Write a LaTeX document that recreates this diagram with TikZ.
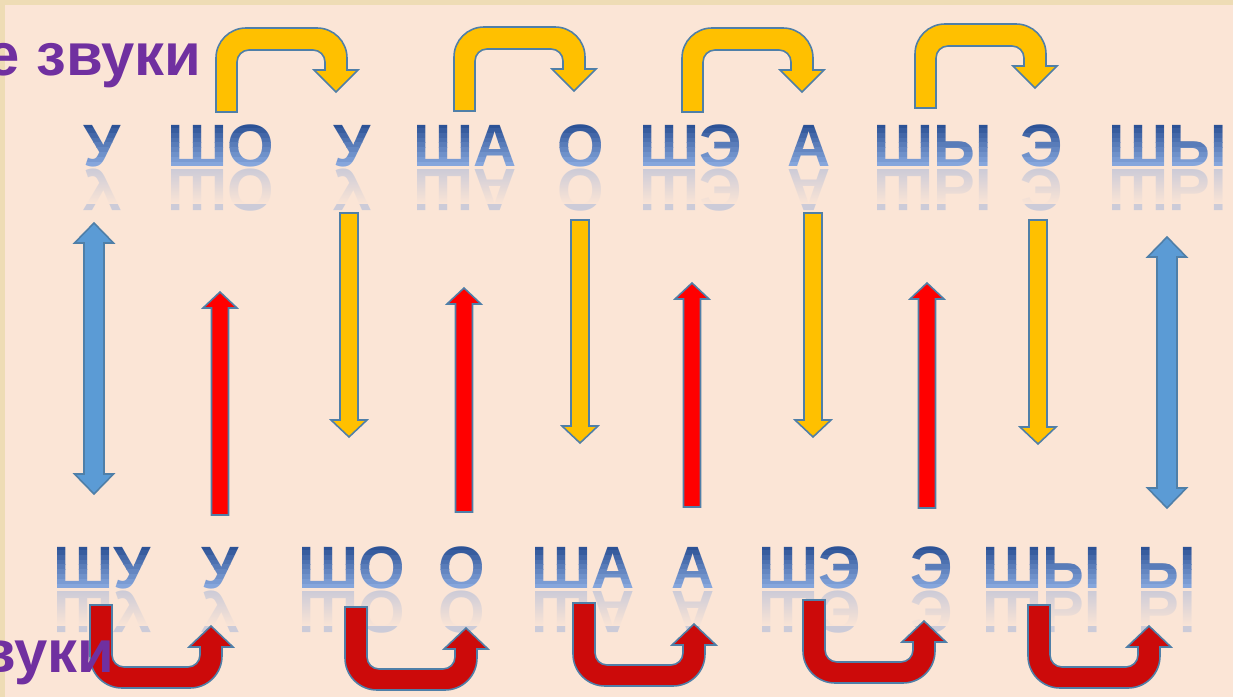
\documentclass[tikz,border=0pt]{standalone}
\usepackage{fontspec}
\setmainfont{Liberation Sans}
\usepackage{graphicx}
\usetikzlibrary{fadings}
\definecolor{persik}{HTML}{FBE5D6}
\definecolor{ramka}{HTML}{EEDCB5}
\definecolor{zheltyy}{HTML}{FFC000}
\definecolor{krasnyy}{HTML}{FF0000}
\definecolor{temnokrasnyy}{HTML}{CC0A0A}
\definecolor{siniy}{HTML}{5B9BD5}
\definecolor{kontur}{HTML}{4F7FA8}
\definecolor{fioletovyy}{HTML}{7030A0}
\definecolor{bukvaverh}{HTML}{2C5296}
\definecolor{bukvaniz}{HTML}{86A6DC}
\colorlet{bukvacol}{bukvaverh}
\tikzfading[name=otrfade, top color=transparent!100, bottom color=transparent!0]
% слоги: x центра / текст
\newcommand\verhslogi{102/У,221/ШО,352/У,465/ША,581/О,691/ШЭ,809/А,933/ШЫ,1042/Э,1168/ШЫ}
\newcommand\nizslogi{102/ШУ,220/У,352/ШО,462/О,583/ША,693/А,810/ШЭ,932/Э,1042/ШЫ,1167/Ы}

\begin{document}
\begin{tikzpicture}[x=0.01cm, y=-0.01cm,
    bukva/.style={font=\fontsize{17}{20}\selectfont\bfseries, text=bukvacol, inner sep=0pt, anchor=base},
    otrazh/.style={bukva, text=bukvaniz, opacity=0.4},
    nadpis/.style={font=\fontsize{17}{20}\selectfont\bfseries, text=fioletovyy, inner sep=0pt, anchor=base east},
    zhelt/.style={fill=zheltyy, draw=kontur, line width=0.45pt},
    krasn/.style={fill=krasnyy, draw=kontur, line width=0.45pt},
    bordo/.style={fill=temnokrasnyy, draw=kontur, line width=0.45pt},
    sin/.style={fill=siniy, draw=kontur, line width=0.45pt}]
  \useasboundingbox (0,0) rectangle (1233,697);
  \clip (0,0) rectangle (1233,697);
  % фон слайда
  \fill[ramka] (0,0) rectangle (1233,697);
  \fill[persik] (5,5) rectangle (1233,697);

  % подписи
  \node[nadpis] (glasnye) at (202,75) {е звуки};

  % жёлтые изогнутые стрелки сверху
  \foreach \X/\Y in {216/28, 454/27, 682/28, 915/24}
    \draw[zhelt, shift={(\X,\Y)}] (0,84) -- (0,30) arc[start angle=180, end angle=270, radius=30]
      -- (101,0) arc[start angle=270, end angle=360, radius=30] -- (131,42) -- (142,42) -- (120,64)
      -- (98,42) -- (109,42) -- (109,34) arc[start angle=0, end angle=-90, radius=12]
      -- (33,22) arc[start angle=270, end angle=180, radius=12] -- (21,84) -- cycle;

  % отражения слогов
  \foreach \x/\t [count=\i] in \verhslogi
    \node[otrazh] (vo\i) at (\x,169) {\scalebox{1}[-1]{\t}};
  \foreach \x/\t [count=\i] in \nizslogi
    \node[otrazh] (no\i) at (\x,591) {\scalebox{1}[-1]{\t}};
  \fill[persik, path fading=otrfade] (5,168) rectangle (1233,204);
  \fill[persik, path fading=otrfade] (5,590) rectangle (1233,626);

  % слоги, полосами от тёмного к светлому
  \foreach \k in {0,...,8} {
    \pgfmathsetmacro\ya{123+4.8*\k-(\k==0)*20}
    \pgfmathsetmacro\yb{123+4.8*(\k+1)+(\k==8)*20}
    \pgfmathtruncatemacro\p{\k*12.5}
    \colorlet{bukvacol}{bukvaniz!\p!bukvaverh}
    \begin{scope}
      \clip (0,\ya) rectangle (1233,\yb) (0,\ya+422) rectangle (1233,\yb+422);
      \foreach \x/\t [count=\i] in \verhslogi
        \node[bukva] (v\i) at (\x,166) {\t};
      \foreach \x/\t [count=\i] in \nizslogi
        \node[bukva] (n\i) at (\x,588) {\t};
    \end{scope}
  }

  % синие двойные стрелки
  \foreach \x/\a/\b in {94/223/494, 1167/237/508}
    \draw[sin] (\x,\a) -- (\x+19.5,\a+20) -- (\x+10,\a+20) -- (\x+10,\b-20) -- (\x+19.5,\b-20) -- (\x,\b)
      -- (\x-19.5,\b-20) -- (\x-10,\b-20) -- (\x-10,\a+20) -- (\x-19.5,\a+20) -- cycle;
  % красные стрелки вверх
  \foreach \x/\a/\b in {220/515/292, 464/512/288, 692/507/283, 927/508/283}
    \draw[krasn] (\x-8.5,\a) -- (\x-8.5,\b+16) -- (\x-17,\b+16) -- (\x,\b) -- (\x+17,\b+16)
      -- (\x+8.5,\b+16) -- (\x+8.5,\a) -- cycle;
  % жёлтые стрелки вниз
  \foreach \x/\a/\b in {349/213/437, 580/220/443, 813/213/437, 1038/220/444}
    \draw[zhelt] (\x-9,\a) -- (\x-9,\b-17) -- (\x-18,\b-17) -- (\x,\b) -- (\x+18,\b-17)
      -- (\x+9,\b-17) -- (\x+9,\a) -- cycle;

  % тёмно-красные изогнутые стрелки снизу
  \foreach \X/\Y in {90/605, 345/607, 573/603, 803/600, 1028/605}
    \draw[bordo, shift={(\X,\Y)}] (0,0) -- (0,51) arc[start angle=180, end angle=90, radius=32]
      -- (100,83) arc[start angle=90, end angle=0, radius=32] -- (132,42) -- (143,42) -- (121,21)
      -- (99,42) -- (110,42) -- (110,50) arc[start angle=0, end angle=90, radius=12]
      -- (34,62) arc[start angle=90, end angle=180, radius=12] -- (22,0) -- cycle;

  \node[nadpis] (soglasnye) at (115,672) {звуки};
\end{tikzpicture}
\end{document}
